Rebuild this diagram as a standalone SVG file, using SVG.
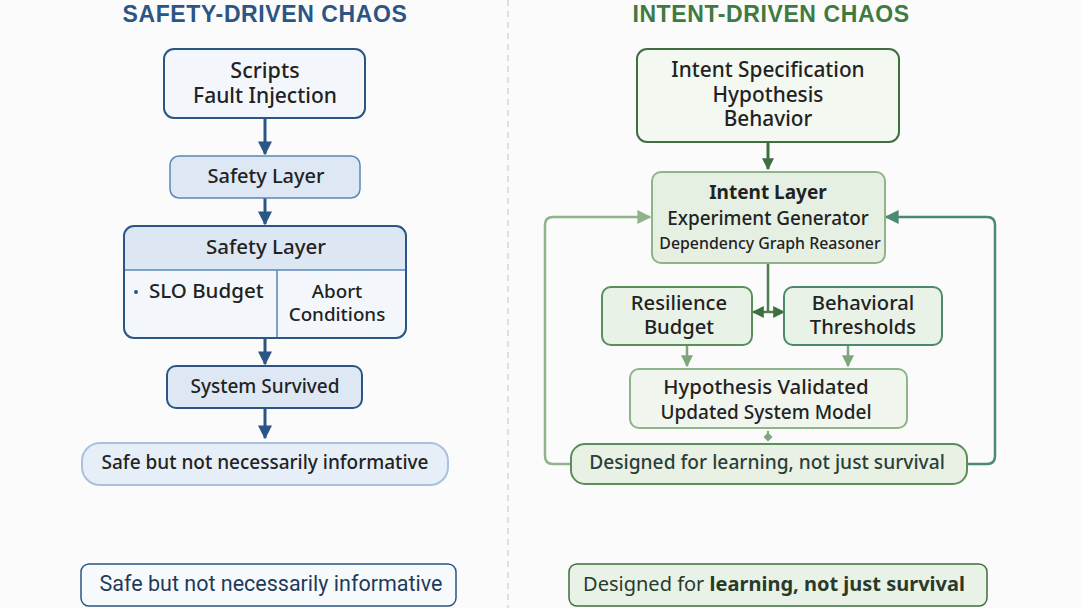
<svg xmlns="http://www.w3.org/2000/svg" width="1081" height="608" viewBox="0 0 1081 608">
<defs>
<marker id="abig" viewBox="0 0 10 10" refX="9" refY="5" markerWidth="14" markerHeight="14" markerUnits="userSpaceOnUse" orient="auto-start-reverse"><path d="M0,0 L10,5 L0,10 z" fill="#2b5584"/></marker>
<marker id="ag" viewBox="0 0 10 10" refX="9" refY="5" markerWidth="12" markerHeight="12" markerUnits="userSpaceOnUse" orient="auto-start-reverse"><path d="M0,0 L10,5 L0,10 z" fill="#3f6f3f"/></marker>
<marker id="agl" viewBox="0 0 10 10" refX="9" refY="5" markerWidth="12" markerHeight="12" markerUnits="userSpaceOnUse" orient="auto-start-reverse"><path d="M0,0 L10,5 L0,10 z" fill="#7fa67a"/></marker>
<marker id="agl2" viewBox="0 0 10 10" refX="9" refY="5" markerWidth="14" markerHeight="14" markerUnits="userSpaceOnUse" orient="auto-start-reverse"><path d="M0,0 L10,5 L0,10 z" fill="#8fb48a"/></marker>
<marker id="at" viewBox="0 0 10 10" refX="9" refY="5" markerWidth="14" markerHeight="14" markerUnits="userSpaceOnUse" orient="auto-start-reverse"><path d="M0,0 L10,5 L0,10 z" fill="#4a8a70"/></marker>
<marker id="ad" viewBox="0 0 10 10" refX="5" refY="5" markerWidth="9" markerHeight="9" markerUnits="userSpaceOnUse" orient="auto"><path d="M0,5 L5,0 L10,5 L5,10 z" fill="#7fa67a"/></marker>
</defs>
<style>
text{font-family:"Noto Sans","Open Sans","Liberation Sans",sans-serif;fill:#222;text-anchor:middle;font-weight:500}
.title{font-family:"Liberation Sans",Arial,sans-serif;font-size:23px;font-weight:700;letter-spacing:0.6px}
.b{font-weight:700}
.foot{font-family:Roboto,"Liberation Sans",sans-serif;font-size:21.5px;font-weight:400}
</style>
<rect width="1081" height="608" fill="#fbfbfb"/>
<line x1="508" y1="0" x2="508" y2="608" stroke="#d6d6d6" stroke-width="1.5" stroke-dasharray="6 5"/>
<text x="265" y="22" class="title" style="fill:#2b5584">SAFETY-DRIVEN CHAOS</text>
<text x="771" y="22" class="title" style="fill:#3f7a3f">INTENT-DRIVEN CHAOS</text>

<g id="connectors" fill="none">
<line x1="265" y1="118" x2="265" y2="154" stroke="#2b5584" stroke-width="3" marker-end="url(#abig)"/>
<line x1="265" y1="198" x2="265" y2="224" stroke="#2b5584" stroke-width="3" marker-end="url(#abig)"/>
<line x1="265" y1="338" x2="265" y2="364" stroke="#2b5584" stroke-width="3" marker-end="url(#abig)"/>
<line x1="265" y1="408" x2="265" y2="438" stroke="#2b5584" stroke-width="3" marker-end="url(#abig)"/>
<line x1="768" y1="142" x2="768" y2="169" stroke="#3f6f3f" stroke-width="3" marker-end="url(#ag)"/>
<line x1="768" y1="263" x2="768" y2="312" stroke="#4f7f4f" stroke-width="2.5"/>
<line x1="753" y1="312" x2="784" y2="312" stroke="#4f7f4f" stroke-width="2.5" marker-start="url(#ag)" marker-end="url(#ag)"/>
<line x1="687" y1="345" x2="687" y2="366" stroke="#7fa67a" stroke-width="2.5" marker-end="url(#agl)"/>
<line x1="848" y1="345" x2="848" y2="366" stroke="#7fa67a" stroke-width="2.5" marker-end="url(#agl)"/>
<line x1="768" y1="431" x2="768" y2="437" stroke="#7fa67a" stroke-width="2" marker-end="url(#ad)"/>
<path d="M571,464 H553 Q545,464 545,456 V225 Q545,217 553,217 H650" stroke="#8fb48a" stroke-width="2.5" marker-end="url(#agl2)"/>
<path d="M967,464 H987 Q995,464 995,456 V225 Q995,217 987,217 H886" stroke="#4a8a70" stroke-width="2.5" marker-end="url(#at)"/>
</g>

<g id="n-scripts">
<rect x="164" y="49" width="201" height="69" rx="10" fill="#f3f7fc" stroke="#2b5584" stroke-width="2"/>
<text x="265" y="78" style="font-size:21.5px">Scripts</text>
<text x="265" y="103" style="font-size:21px">Fault Injection</text>
</g>
<g id="n-safety1">
<rect x="170" y="156" width="190" height="42" rx="9" fill="#dde8f4" stroke="#5b86b5" stroke-width="1.5"/>
<text x="266" y="183" style="font-size:20px">Safety Layer</text>
</g>
<g id="n-safety2">
<rect x="124" y="226" width="282" height="112" rx="10" fill="#f3f7fc"/>
<path d="M124,270 V236 Q124,226 134,226 H396 Q406,226 406,236 V270 Z" fill="#dce7f3"/>
<line x1="124" y1="270" x2="406" y2="270" stroke="#5b86b5" stroke-width="1.5"/>
<line x1="277" y1="270" x2="277" y2="338" stroke="#5b86b5" stroke-width="1.5"/>
<rect x="124" y="226" width="282" height="112" rx="10" fill="none" stroke="#2b5584" stroke-width="2"/>
<text x="266" y="254" style="font-size:20.5px">Safety Layer</text>
<circle cx="136" cy="292" r="2" fill="#2b5584"/>
<text x="149" y="298" style="font-size:20.5px;text-anchor:start">SLO Budget</text>
<text x="337" y="297.5" style="font-size:18.8px">Abort</text>
<text x="337" y="321" style="font-size:18.8px">Conditions</text>
</g>
<g id="n-survived">
<rect x="167" y="366" width="195" height="42" rx="9" fill="#dde8f4" stroke="#2b5584" stroke-width="2"/>
<text x="265" y="393" style="font-size:19px">System Survived</text>
</g>
<g id="n-safe">
<rect x="82" y="443" width="366" height="42" rx="18" fill="#e6eef7" stroke="#a9c1dc" stroke-width="2"/>
<text x="265" y="469" style="font-size:19px">Safe but not necessarily informative</text>
</g>

<g id="n-intent-spec">
<rect x="637" y="49" width="262" height="93" rx="10" fill="#f3f8f1" stroke="#3f6f3f" stroke-width="2"/>
<text x="768" y="77" style="font-size:20.8px">Intent Specification</text>
<text x="768" y="102" style="font-size:20.8px">Hypothesis</text>
<text x="768" y="126" style="font-size:20.8px">Behavior</text>
</g>
<g id="n-intent-layer">
<rect x="652" y="172" width="233" height="91" rx="9" fill="#e6f0e2" stroke="#8fb48a" stroke-width="2"/>
<text x="768" y="199" class="b" style="font-size:19px">Intent Layer</text>
<text x="768" y="225" style="font-size:18.9px">Experiment Generator</text>
<text x="770" y="249" style="font-size:15.9px">Dependency Graph Reasoner</text>
</g>
<g id="n-resilience">
<rect x="602" y="287" width="150" height="58" rx="9" fill="#e9f2e6" stroke="#5a8f5a" stroke-width="2"/>
<text x="679" y="309.5" style="font-size:20.2px">Resilience</text>
<text x="679" y="333.5" style="font-size:20.2px">Budget</text>
</g>
<g id="n-behavioral">
<rect x="784" y="287" width="158" height="58" rx="9" fill="#e9f2e6" stroke="#4a8a6a" stroke-width="2"/>
<text x="863" y="309.5" style="font-size:20.2px">Behavioral</text>
<text x="863" y="333.5" style="font-size:20.2px">Thresholds</text>
</g>
<g id="n-hypothesis">
<rect x="630" y="369" width="277" height="59" rx="9" fill="#f0f6ee" stroke="#8fb48a" stroke-width="2"/>
<text x="766" y="394" style="font-size:20.4px">Hypothesis Validated</text>
<text x="766" y="419" style="font-size:19px">Updated System Model</text>
</g>
<g id="n-designed">
<rect x="571" y="444" width="396" height="40" rx="14" fill="#e8f1e4" stroke="#5a8f5a" stroke-width="2"/>
<text x="767" y="469" style="font-size:19.2px;fill:#2a3f3a">Designed for learning, not just survival</text>
</g>

<g id="n-foot-left">
<rect x="81" y="564" width="375" height="42" rx="8" fill="#f7fafd" stroke="#2b5584" stroke-width="1.5"/>
<text x="271" y="591" class="foot" style="fill:#1f3a5a">Safe but not necessarily informative</text>
</g>
<g id="n-foot-right">
<rect x="569" y="564" width="418" height="42" rx="8" fill="#e9f2e6" stroke="#3f6f3f" stroke-width="1.5"/>
<text x="774" y="591" style="font-size:20px;font-weight:400;fill:#2a3a2a">Designed for <tspan style="font-weight:700">learning, not just survival</tspan></text>
</g>
</svg>
